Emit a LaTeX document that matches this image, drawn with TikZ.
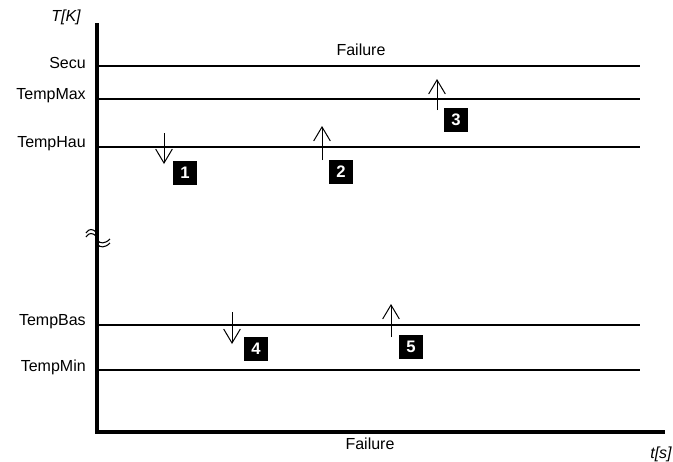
\documentclass[tikz,border=0pt]{standalone}
\usepackage{fontspec}
\setmainfont{Liberation Sans}
\usetikzlibrary{arrows.meta}
\begin{document}
\begin{tikzpicture}[x=0.75pt,y=-0.75pt,
  lbl/.style={anchor=east,inner sep=0pt,font=\fontsize{12}{14}\selectfont},
  level/.style={line width=0.9pt},
  axis/.style={line width=2.4pt},
  brk/.style={line width=0.8pt},
  move/.style={line width=0.75pt,-{Straight Barb[length=10.5pt,width=12.5pt,line width=0.75pt]}},
  tag/.style={fill=black,text=white,font=\fontsize{12.5}{14}\bfseries\selectfont,minimum width=17.5pt,minimum height=17.5pt,inner sep=0pt}]
\useasboundingbox (0,0) rectangle (673,461);
% axes
\coordinate (top) at (97,23);
\coordinate (origin) at (97,432);
\coordinate (right) at (665,432);
\draw[axis] (top) -- (origin) -- (right);
\node[inner sep=0pt,font=\fontsize{12}{14}\itshape\selectfont] (tk) at (66,17) {T[K]};
\node[inner sep=0pt,font=\fontsize{12}{14}\itshape\selectfont] (ts) at (661,454) {t[s]};
% levels
\foreach \nm/\yy in {Secu/66,TempMax/99,TempHau/147,TempBas/325,TempMin/370}{
  \node[lbl] (L\nm) at (86,\yy-3) {\nm};
  \coordinate (A\nm) at (97,\yy);
  \coordinate (B\nm) at (640,\yy);
  \draw[level] (A\nm) -- (B\nm);
}
\node[inner sep=0pt,font=\fontsize{12}{14}\selectfont] (ftop) at (361,50) {Failure};
\node[inner sep=0pt,font=\fontsize{12}{14}\selectfont] (fbot) at (370,444) {Failure};
% axis break
\draw[brk] (86,233) .. controls (89,228) and (93,229) .. (96,232);
\draw[brk] (86,237) .. controls (89,232) and (93,233) .. (96,236);
\draw[brk] (97,240) .. controls (100,244) and (105,244) .. (110,239);
\draw[brk] (97,244) .. controls (100,248) and (105,248) .. (110,243);
% arrows
\coordinate (a1s) at (164,133); \coordinate (a1e) at (164,164);
\coordinate (a2s) at (322,160); \coordinate (a2e) at (322,126);
\coordinate (a3s) at (437,110); \coordinate (a3e) at (437,79);
\coordinate (a4s) at (232,312); \coordinate (a4e) at (232,344);
\coordinate (a5s) at (391,337); \coordinate (a5e) at (391,304);
\foreach \i in {1,...,5}{\draw[move] (a\i s) -- (a\i e);}
% tags
\node[tag] (t1) at (185,173) {1};
\node[tag] (t2) at (341,172) {2};
\node[tag] (t3) at (456,120) {3};
\node[tag] (t4) at (256,349) {4};
\node[tag] (t5) at (411,347) {5};
\end{tikzpicture}
\end{document}
